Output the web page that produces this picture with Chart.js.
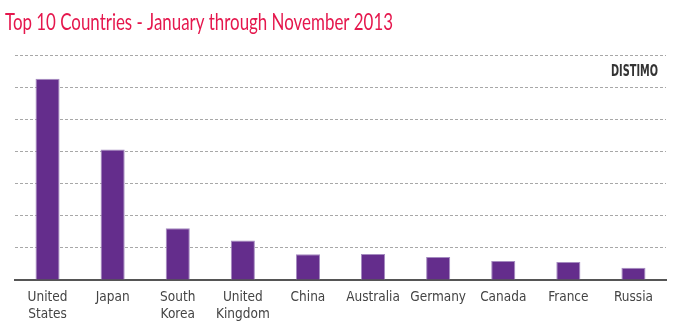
<!DOCTYPE html>
<html>
<head>
<meta charset="utf-8">
<script src="https://cdn.jsdelivr.net/npm/chart.js@4/dist/chart.umd.min.js"></script>
<style>
  html, body { margin: 0; padding: 0; background: #fff; }
  #wrap { position: relative; width: 680px; height: 331px; }
</style>
</head>
<body>
<div id="wrap"><canvas id="chart" width="680" height="331"></canvas></div>
<script>
// Top 10 countries by index, January through November 2013
const titleText = 'Top 10 Countries - January through November 2013';
const brandText = 'DISTIMO';
const countries = [
  ['United', 'States'], 'Japan', ['South', 'Korea'], ['United', 'Kingdom'],
  'China', 'Australia', 'Germany', 'Canada', 'France', 'Russia'
];
const values = [6.26, 4.06, 1.61, 1.23, 0.80, 0.81, 0.715, 0.59, 0.56, 0.38];
const gridSteps = [0, 1, 2, 3, 4, 5, 6, 7];

// Draws the heading and the brand mark, each squeezed to a narrow face
const headerPlugin = {
  id: 'header',
  afterDraw(chart) {
    const ctx = chart.ctx;
    const drawFitted = (text, font, color, x, y, width, align) => {
      ctx.save();
      ctx.font = font;
      ctx.fillStyle = color;
      ctx.textBaseline = 'alphabetic';
      ctx.textAlign = 'left';
      const w = ctx.measureText(text).width;
      const sx = width / w;
      const left = align === 'right' ? x - width : x;
      ctx.translate(left, y);
      ctx.scale(sx, 1);
      ctx.fillText(text, 0, 0);
      ctx.restore();
    };
    drawFitted(titleText, '400 24px Lato, "Liberation Sans Narrow", sans-serif',
      '#e5174d', 5, 30, 388, 'left');
    drawFitted(brandText, 'bold 16.5px "Liberation Sans Narrow", "DejaVu Sans Condensed", sans-serif',
      '#333333', 658, 76, 47, 'right');
  }
};

new Chart(document.getElementById('chart'), {
  type: 'bar',
  data: {
    labels: countries,
    datasets: [{
      data: values,
      backgroundColor: '#642d8c',
      borderColor: '#a58bc0',
      borderWidth: 1,
      borderSkipped: 'bottom',
      barPercentage: 0.37,
      categoryPercentage: 1.0
    }]
  },
  options: {
    responsive: false,
    animation: false,
    layout: { padding: { top: 55, left: 15, right: 14, bottom: 0 } },
    plugins: {
      legend: { display: false },
      title: { display: false },
      tooltip: { enabled: false }
    },
    scales: {
      x: {
        afterFit(scale) { scale.height = 51; },
        grid: { display: false, drawTicks: false },
        border: { display: true, color: '#555555', width: 2 },
        ticks: {
          color: '#444444',
          padding: 9,
          maxRotation: 0,
          autoSkip: false,
          font: { family: '"Liberation Sans Narrow", "DejaVu Sans Condensed", sans-serif', size: 13.5, lineHeight: 1.25 }
        }
      },
      y: {
        min: gridSteps[0],
        max: gridSteps[gridSteps.length - 1],
        afterBuildTicks(scale) { scale.ticks = gridSteps.map(v => ({ value: v })); },
        ticks: { display: false },
        grid: { color: '#a8a8a8', lineWidth: 1, drawTicks: false },
        border: { display: false, dash: [3, 2] }
      }
    }
  },
  plugins: [headerPlugin]
});
</script>
</body>
</html>
